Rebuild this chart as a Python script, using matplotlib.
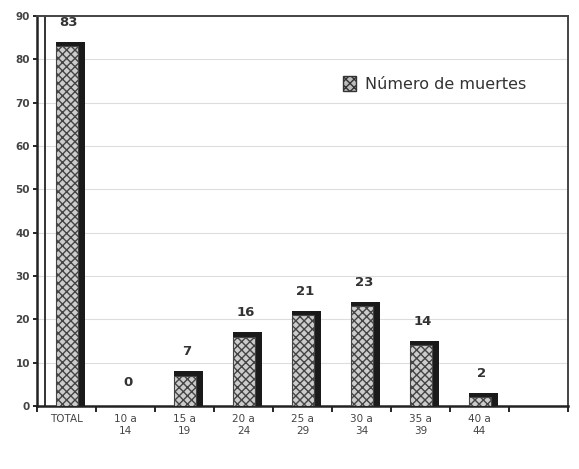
import matplotlib.pyplot as plt
from matplotlib.patches import Patch

plt.rcParams["hatch.color"] = "#666666"

categories = ["TOTAL", "10 a\n14", "15 a\n19", "20 a\n24", "25 a\n29",
              "30 a\n34", "35 a\n39", "40 a\n44", ""]
muertes = [83, 0, 7, 16, 21, 23, 14, 2]
yticks = [0, 10, 20, 30, 40, 50, 60, 70, 80, 90]

fig = plt.figure(figsize=(5.79, 4.69), dpi=100)
ax = fig.add_axes([0.064, 0.134, 0.917, 0.832])

xs = list(range(len(muertes)))
# sombra oscura (lado y tapa 3D)
ax.bar([x + 0.07 for x in xs], [v + 1.0 if v > 0 else 0 for v in muertes],
       width=0.5, color="#1a1a1a", zorder=3)
# cara del bar con textura
ax.bar([x + 0.01 for x in xs], muertes, width=0.37, color="#cccccc",
       edgecolor="#444444", hatch="xxxx", linewidth=0.8, zorder=4)

for x, v in zip(xs, muertes):
    ax.text(x + 0.04, v + 5.5, str(v), ha="center", va="center",
            fontsize=9.5, fontweight="bold", color="#333333")

ax.set_xlim(-0.5, len(categories) - 0.5)
ax.set_ylim(0, 90)
ax.set_yticks(yticks)
ax.set_xticks([i - 0.5 for i in range(len(categories) + 1)], minor=False)
ax.set_xticklabels([])
ax.set_xticks(range(len(categories)), minor=True)
ax.set_xticklabels(categories, minor=True, fontsize=7.5, color="#444444")
ax.tick_params(axis="x", which="minor", length=0, pad=6)
ax.tick_params(axis="x", which="major", length=4, width=1.2)
ax.tick_params(axis="y", length=3, width=1.2, labelsize=7.5,
               labelcolor="#444444", pad=2)
for lbl in ax.get_yticklabels():
    lbl.set_fontweight("bold")

ax.yaxis.grid(True, color="#dddddd", linewidth=0.8, zorder=0)
ax.set_axisbelow(True)
for s in ["left", "bottom"]:
    ax.spines[s].set_linewidth(1.8)
    ax.spines[s].set_color("#222222")
for s in ["top", "right"]:
    ax.spines[s].set_linewidth(1.4)
    ax.spines[s].set_color("#444444")

# pared interior 3D
ax.plot([0.015, 0.015], [0, 1], transform=ax.transAxes, color="#333333",
        linewidth=1.4, zorder=2, clip_on=False)

leg = ax.legend(handles=[Patch(facecolor="#bbbbbb", edgecolor="#333333",
                               hatch="xxxx", label="Número de muertes")],
                loc="upper right", bbox_to_anchor=(0.94, 0.87), fontsize=11.5,
                frameon=True, fancybox=False, edgecolor="white",
                framealpha=1, handlelength=0.8, handleheight=1.0,
                handletextpad=0.6, borderpad=0.6, borderaxespad=0)
for t in leg.get_texts():
    t.set_color("#333333")

fig.savefig("out.png", dpi=100)
